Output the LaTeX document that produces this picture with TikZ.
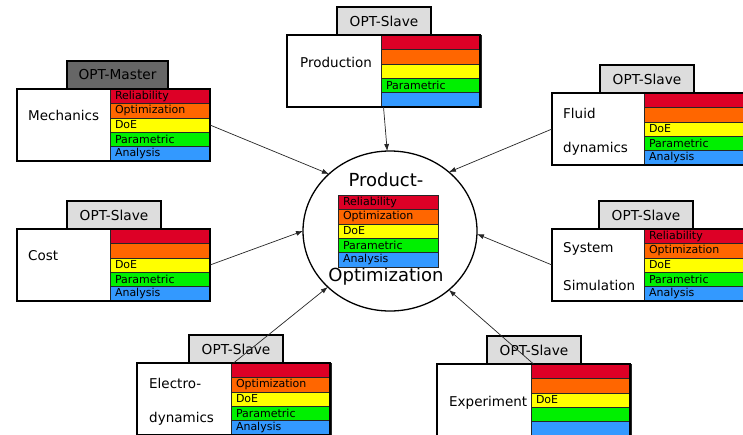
\documentclass[tikz,border=0pt]{standalone}
\usepackage{fontspec}
\setmainfont{DejaVu Sans}
\usetikzlibrary{shapes.geometric,arrows.meta}

\definecolor{cRel}{RGB}{221,0,38}
\definecolor{cOpt}{RGB}{255,102,0}
\definecolor{cDoe}{RGB}{255,255,0}
\definecolor{cPar}{RGB}{0,240,0}
\definecolor{cAna}{RGB}{51,153,255}
\definecolor{tabMaster}{RGB}{102,102,102}
\definecolor{tabSlave}{RGB}{221,221,221}

\tikzset{
  stripe/.style={draw=black!85, line width=0.6pt, minimum width=100pt,
    minimum height=14.4pt, text width=90pt, inner xsep=5pt, inner ysep=0pt,
    outer sep=0pt, anchor=north west, align=left,
    font=\fontsize{11}{11}\selectfont},
  blockbox/.style={draw, line width=1.3pt, minimum width=193pt,
    minimum height=72pt, anchor=north west, inner sep=0pt, outer sep=0pt},
  tabbox/.style={draw, line width=1.2pt, minimum height=28pt, inner sep=0pt,
    outer sep=0pt, anchor=south west, font=\fontsize{13.7}{13.7}\selectfont},
  master/.style={tabbox, fill=tabMaster, minimum width=101pt},
  slave/.style={tabbox, fill=tabSlave, minimum width=94pt},
  blocklabel/.style={anchor=west, inner sep=0pt,
    font=\fontsize{13.5}{13.5}\selectfont},
  bigtext/.style={inner sep=0pt, font=\fontsize{18}{18}\selectfont},
  conn/.style={-{Latex[length=7pt,width=5pt]}, line width=0.7pt, black!85},
}

% five coloured method stripes, stacked from the given top-left corner
\newcommand{\methodstrips}[7]{%
  \node[stripe, fill=cRel] (#1-1) at (#2) {#3};
  \node[stripe, fill=cOpt] (#1-2) at (#1-1.south west) {#4};
  \node[stripe, fill=cDoe] (#1-3) at (#1-2.south west) {#5};
  \node[stripe, fill=cPar] (#1-4) at (#1-3.south west) {#6};
  \node[stripe, fill=cAna] (#1-5) at (#1-4.south west) {#7};
}

\begin{document}
\begin{tikzpicture}[x=1pt, y=-1pt]
\useasboundingbox[fill=white] (0,0) rectangle (743,434);

% ---- Mechanics (master) ----
\node[master] (mechtab) at (67,89) {OPT-Master};
\methodstrips{mechs}{110,89}{Reliability}{Optimization}{DoE}{Parametric}{Analysis}
\node[blockbox] (mech) at (17,89) {};
\node[blocklabel] (mechlbl) at (28,115) {Mechanics};

% ---- Production ----
\node[slave] (prodtab) at (337,35) {OPT-Slave};
\methodstrips{prods}{381,35}{}{}{}{Parametric}{}
\node[blockbox] (prod) at (287,35) {};
\node[blocklabel] (prodlbl) at (300,62) {Production};

% ---- Fluid dynamics ----
\node[slave] (fluidtab) at (600,93) {OPT-Slave};
\methodstrips{fluids}{644,93}{}{}{DoE}{Parametric}{Analysis}
\node[blockbox] (fluid) at (552,93) {};
\node[blocklabel] (fluidlblA) at (563,113) {Fluid};
\node[blocklabel] (fluidlblB) at (563,149) {dynamics};

% ---- Cost ----
\node[slave] (costtab) at (67,229) {OPT-Slave};
\methodstrips{costs}{110,229}{}{}{DoE}{Parametric}{Analysis}
\node[blockbox] (cost) at (17,229) {};
\node[blocklabel] (costlbl) at (28,256) {Cost};

% ---- System Simulation ----
\node[slave] (systab) at (599,229) {OPT-Slave};
\methodstrips{syss}{644,229}{Reliability}{Optimization}{DoE}{Parametric}{Analysis}
\node[blockbox] (sys) at (552,229) {};
\node[blocklabel] (syslblA) at (563,249) {System};
\node[blocklabel] (syslblB) at (563,285) {Simulation};

% ---- Electrodynamics ----
\node[slave] (electab) at (189,363) {OPT-Slave};
\methodstrips{elecs}{231,363}{}{Optimization}{DoE}{Parametric}{Analysis}
\node[blockbox] (elec) at (137,363) {};
\node[blocklabel] (eleclblA) at (149,383) {Electro-};
\node[blocklabel] (eleclblB) at (149,419) {dynamics};

% ---- Experiment ----
\node[slave] (expttab) at (487,364) {OPT-Slave};
\methodstrips{expts}{531,364}{}{}{DoE}{}{}
\node[blockbox] (expt) at (437,364) {};
\node[blocklabel] (exptlbl) at (449,403) {Experiment};

% ---- central product optimization ----
\node[draw, ellipse, line width=1.3pt, minimum width=174pt, minimum height=160pt,
      inner sep=0pt, outer sep=0pt] (po) at (390,231) {};
\node[bigtext] (potitleA) at (386,180) {Product-};
\node[bigtext] (potitleB) at (386,277) {Optimization};
\methodstrips{pos}{338,195}{Reliability}{Optimization}{DoE}{Parametric}{Analysis}

% ---- connectors ----
\draw[conn] (mech.east)  -- (po.137);
\draw[conn] (prod.south) -- (po.92);
\draw[conn] (fluid.west) -- (po.45);
\draw[conn] (cost.east)  -- (po.180);
\draw[conn] (sys.west)   -- (po.358);
\draw[conn] (elec.north) -- (po.222);
\draw[conn] (expt.north) -- (po.315);
\end{tikzpicture}
\end{document}
